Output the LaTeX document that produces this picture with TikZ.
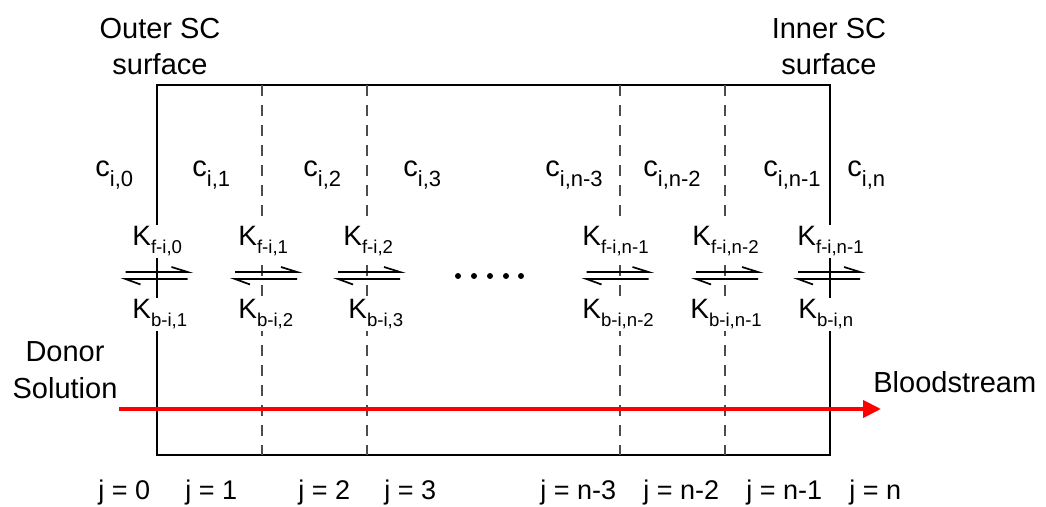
\documentclass[tikz,border=0pt]{standalone}
\usepackage{fontspec}
\setmainfont{Liberation Sans}
\usetikzlibrary{arrows.meta}
\newcommand\csub[2]{#1\raisebox{-5pt}{\fontsize{11}{12}\selectfont #2}}
\newcommand\ksub[2]{#1\raisebox{-4pt}{\fontsize{9.3}{10}\selectfont #2}}
\tikzset{
  lbl/.style={inner sep=0pt, font=\fontsize{14.5}{17}\selectfont, anchor=base west},
  klbl/.style={inner sep=1pt, fill=white, font=\fontsize{14}{17}\selectfont, anchor=base west},
  jlbl/.style={inner sep=0pt, font=\fontsize{13.5}{16}\selectfont, anchor=base west},
  title/.style={inner sep=0pt, align=center, font=\fontsize{14.5}{18}\selectfont, anchor=north},
  bound/.style={line width=0.75pt, draw=black},
  layer/.style={line width=0.6pt, draw=black!70, dash pattern=on 5.5pt off 4.5pt},
  flow/.style={draw=red, line width=2pt, -{Triangle[length=9pt,width=8.5pt]}},
  dotmark/.style={fill=black, draw=none},
  eqarrow/.pic={
    \draw[line width=0.85pt] (15,-8.5) -- (31,-3.5) -- (-31,-3.5);
    \draw[line width=0.85pt] (-16,9) -- (-31,3.5) -- (31,3.5);
  }
}
\begin{document}
\begin{tikzpicture}[x=0.5pt,y=-0.5pt]
\useasboundingbox (0,0) rectangle (1046,507);
% layers
\draw[bound] (157,85) rectangle (830,455);
\foreach \xx in {262,367,620,725} \draw[layer] (\xx,85) -- (\xx,455);
% titles
\node[title] (outer) at (160,18) {Outer SC\\surface};
\node[title] (inner) at (829,18) {Inner SC\\surface};
\node[title, font=\fontsize{14.5}{18.5}\selectfont] (donor) at (65,341) {Donor\\Solution};
\node[lbl] (blood) at (873,393) {Bloodstream};
% concentrations
\node[lbl] (c0) at (95,177) {\csub{c}{i,0}};
\node[lbl] (c1) at (192,177) {\csub{c}{i,1}};
\node[lbl] (c2) at (303,177) {\csub{c}{i,2}};
\node[lbl] (c3) at (403,177) {\csub{c}{i,3}};
\node[lbl] (cn3) at (545,177) {\csub{c}{i,n-3}};
\node[lbl] (cn2) at (643,177) {\csub{c}{i,n-2}};
\node[lbl] (cn1) at (763,177) {\csub{c}{i,n-1}};
\node[lbl] (cn) at (847,177) {\csub{c}{i,n}};
% rate constants
\node[klbl] (kf0) at (130,246) {\ksub{K}{f-i,0}};
\node[klbl] (kf1) at (236,246) {\ksub{K}{f-i,1}};
\node[klbl] (kf2) at (341,246) {\ksub{K}{f-i,2}};
\node[klbl] (kf3) at (580,246) {\ksub{K}{f-i,n-1}};
\node[klbl] (kf4) at (690,246) {\ksub{K}{f-i,n-2}};
\node[klbl] (kf5) at (795,246) {\ksub{K}{f-i,n-1}};
\node[klbl] (kb0) at (130,319) {\ksub{K}{b-i,1}};
\node[klbl] (kb1) at (236,319) {\ksub{K}{b-i,2}};
\node[klbl] (kb2) at (346,319) {\ksub{K}{b-i,3}};
\node[klbl] (kb3) at (580,319) {\ksub{K}{b-i,n-2}};
\node[klbl] (kb4) at (688,319) {\ksub{K}{b-i,n-1}};
\node[klbl] (kb5) at (796,319) {\ksub{K}{b-i,n}};
% equilibrium arrows
\pic (eq0) at (156.5,275.5) {eqarrow};
\pic (eq1) at (266,275.5) {eqarrow};
\pic (eq2) at (369,275.5) {eqarrow};
\pic (eq3) at (617.5,275.5) {eqarrow};
\pic (eq4) at (727,275.5) {eqarrow};
\pic (eq5) at (829,275.5) {eqarrow};
% dots
\foreach \xx in {458,474,490,506,521} \fill[dotmark] (\xx,276) circle (3);
% flow
\coordinate (flowS) at (119,409);
\coordinate (flowE) at (881,409);
\draw[flow] (flowS) -- (flowE);
% indices
\node[jlbl] (j0) at (98,500) {j = 0};
\node[jlbl] (j1) at (185,500) {j = 1};
\node[jlbl] (j2) at (298,500) {j = 2};
\node[jlbl] (j3) at (384,500) {j = 3};
\node[jlbl] (jn3) at (540,500) {j = n-3};
\node[jlbl] (jn2) at (643,500) {j = n-2};
\node[jlbl] (jn1) at (746,500) {j = n-1};
\node[jlbl] (jn) at (849,500) {j = n};
\end{tikzpicture}
\end{document}
